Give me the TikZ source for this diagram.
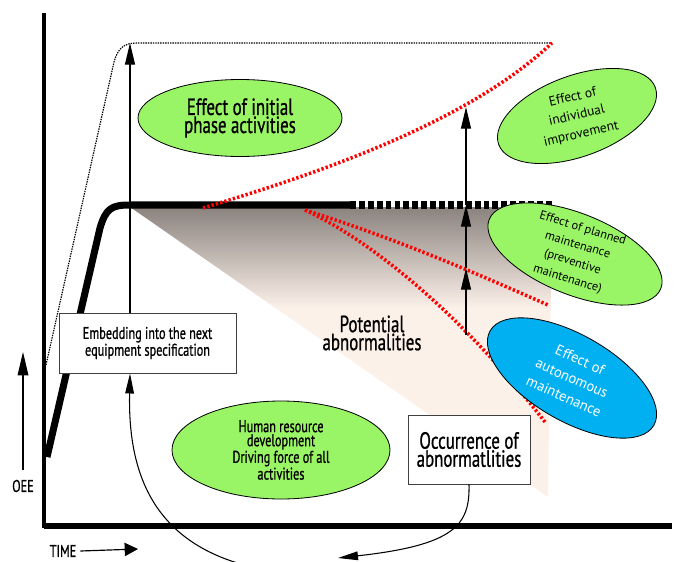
\documentclass[tikz,border=0pt]{standalone}
\usepackage{fontspec}
\setmainfont{PT Sans}
\newfontfamily\condfont{PT Sans}[FakeStretch=0.72,FakeBold=0.8]
\usetikzlibrary{arrows.meta,positioning,shapes.geometric}

\definecolor{oeegreen}{RGB}{153,245,102}
\definecolor{oeeblue}{RGB}{0,176,240}
\definecolor{shadetop}{RGB}{136,128,124}
\definecolor{shadebot}{RGB}{252,241,233}

\newcommand{\lblbig}{\condfont\fontsize{20}{23}\selectfont}
\newcommand{\lblmid}{\condfont\fontsize{14.5}{18.5}\selectfont}

\begin{document}
\begin{tikzpicture}[
	x=0.03cm, y=-0.03cm,
	greenellipse/.style={
		ellipse,
		draw=black,
		line width=0.7pt,
		fill=oeegreen,
		inner sep=0pt},
	blueellipse/.style={greenellipse, fill=oeeblue},
	textbox/.style={
		rectangle,
		draw=black!75,
		line width=0.8pt,
		fill=white,
		inner sep=0pt,
		align=center},
	redline/.style={red, line width=3pt, dash pattern=on 2pt off 1.8pt},
	myarrow/.style={-{Triangle[length=6.5mm,width=3mm]}, line width=1pt},
	curvearrow/.style={-{Triangle[length=6mm,width=2.6mm]}, line width=0.9pt}
	]
	\useasboundingbox (0,0) rectangle (678,561);

	% wedge of potential abnormalities
	\begin{scope}
		\clip (130,207) -- (552,207) -- (548,497) -- cycle;
		\fill[shadebot] (130,205) rectangle (552,497);
		\shade[top color=shadetop, bottom color=shadebot] (130,205) rectangle (552,308);
	\end{scope}

	% axes
	\coordinate (ytop) at (44,13);
	\coordinate (origin) at (44,528);
	\coordinate (xend) at (672,526);
	\draw[line width=2.8pt] (ytop) -- (origin);
	\draw[line width=5pt] (44,526) -- (xend);

	\node (oee) at (23,486) {\lblmid OEE};
	\coordinate (oeetip) at (23,352);
	\draw[-{Triangle[length=7mm,width=3.2mm]}, line width=1pt, shorten <=5pt] (oee.north) -- (oeetip);
	\node (time) at (63,551) {\lblmid TIME};
	\coordinate (timetip) at (138,549);
	\draw[-{Triangle[length=4mm,width=4mm]}, line width=1pt] (time.east) -- (timetip);

	% target level (dotted) and actual level (thick)
	\coordinate (dottop) at (130,43);
	\draw[line width=1pt, dash pattern=on 1.2pt off 0.9pt]
		(46,365) -- (114,62) .. controls (118,48) and (124,43) .. (137,43) -- (552,43);
	\draw[line width=6pt] (47,457) -- (100,228) .. controls (106,208) and (112,205) .. (130,205) -- (350,205);
	\draw[line width=6pt, dash pattern=on 5pt off 2.6pt] (350,205) -- (553,205);

	% red effect lines
	\draw[redline] (203,208) .. controls (330,170) and (470,120) .. (552,43);
	\draw[redline] (305,210) .. controls (400,240) and (480,275) .. (548,305);
	\draw[redline] (305,210) .. controls (380,245) and (470,325) .. (545,422);

	\coordinate (impmark) at (466,107);
	\coordinate (basemark) at (466,205);
	\coordinate (pmmark) at (466,268);
	\coordinate (ammark) at (466,335);
	\foreach \i/\j in {% start/end
		ammark/pmmark,
		pmmark/basemark,
		basemark/impmark}
		\draw[myarrow] (\i) -- (\j);

	% ellipses
	\node[greenellipse, minimum width=6.12cm, minimum height=2.31cm, align=center] (init) at (240,118)
		{\lblbig Effect of initial\\\lblbig phase activities};
	\node[greenellipse, minimum width=6.54cm, minimum height=2.94cm, align=center] (human) at (281,450)
		{\lblmid Human resource\\\lblmid development\\\lblmid Driving force of all\\\lblmid activities};
	\node[greenellipse, rotate=20, minimum width=5cm, minimum height=2.43cm] (indiv) at (577,116) {};
	\node[rotate=13, align=center, font=\fontsize{11.5}{16}\selectfont] (indivtext) at (indiv.center)
		{Effect of\\individual\\improvement};
	\node[greenellipse, rotate=-22, minimum width=5.55cm, minimum height=2.43cm] (planned) at (575,254) {};
	\node[rotate=-17, align=center, font=\fontsize{10.5}{15}\selectfont] (plannedtext) at (planned.center)
		{Effect of planned\\maintenance\\(preventive\\maintenance)};
	\node[blueellipse, rotate=-30, minimum width=5.67cm, minimum height=2.58cm] (auto) at (572,378) {};
	\node[rotate=-24, align=center, text=white, font=\fontsize{12.5}{17}\selectfont] (autotext) at (auto.center)
		{Effect of\\autonomous\\maintenance};

	% boxes and labels
	\node[textbox, minimum width=5.31cm, minimum height=1.8cm] (embed) at (147.5,343)
		{\lblmid Embedding into the next\\\lblmid equipment specification};
	\node[textbox, minimum width=3.66cm, minimum height=2.07cm] (occur) at (469,449.5)
		{\lblbig Occurrence of\\\lblbig abnormatlities};
	\node[align=center] (potential) at (372,333) {\lblbig Potential\\\lblbig abnormalities};

	\draw[myarrow] (embed.north -| dottop) -- (dottop);

	% feedback loop
	\coordinate (loopend) at (338,558);
	\coordinate (loopstart) at (280,572);
	\draw[curvearrow] (occur.south) .. controls (470,525) and (455,545) .. (loopend);
	\draw[curvearrow] (loopstart) .. controls (150,555) and (128,470) .. (embed.south -| dottop);
\end{tikzpicture}
\end{document}
